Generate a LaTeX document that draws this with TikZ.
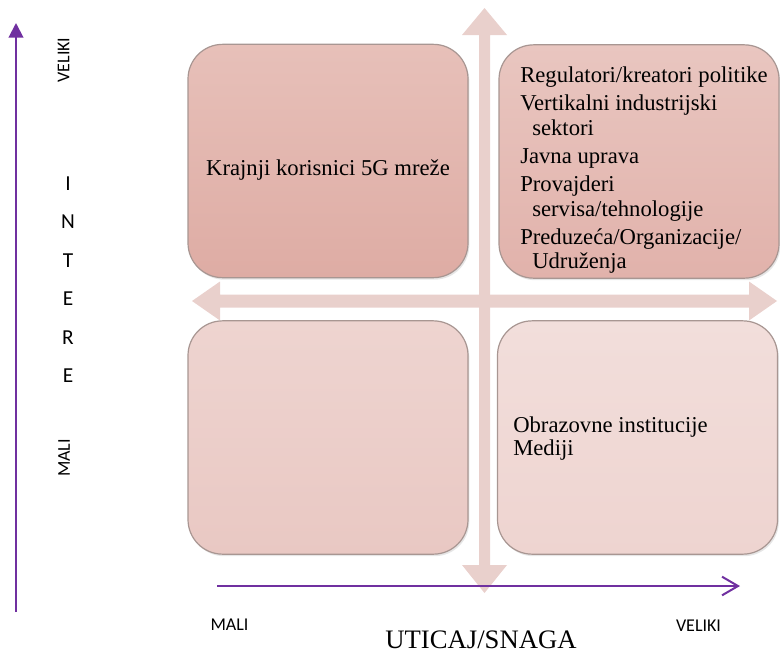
\documentclass[tikz,border=0pt]{standalone}
\usepackage{fontspec}
\setmainfont{Liberation Serif}
\newfontfamily\calib{Carlito}
\usetikzlibrary{arrows.meta,shadows}
\definecolor{axispurple}{RGB}{112,48,160}
\definecolor{crosspink}{RGB}{233,208,204}
\definecolor{boxedge}{RGB}{168,150,146}
\definecolor{tlA}{RGB}{231,192,185}
\definecolor{tlB}{RGB}{222,172,164}
\definecolor{trA}{RGB}{233,198,192}
\definecolor{trB}{RGB}{225,178,171}
\definecolor{blA}{RGB}{238,212,208}
\definecolor{blB}{RGB}{233,200,195}
\definecolor{brA}{RGB}{242,222,219}
\definecolor{brB}{RGB}{238,212,208}

\begin{document}
\begin{tikzpicture}[x=0.75pt,y=-0.75pt,
  quad/.style={draw=boxedge,line width=0.9pt,rounded corners=26pt,inner sep=0pt,
    minimum width=210pt,minimum height=175pt,
    drop shadow={shadow xshift=1pt,shadow yshift=-1.5pt,opacity=0.2}},
  boxtext/.style={font=\fontsize{17}{18.5}\selectfont,align=left,inner sep=0pt},
  axislabel/.style={font=\calib\fontsize{13.5}{16}\selectfont,inner sep=0pt},
  axisletter/.style={font=\calib\fontsize{16}{18}\selectfont,inner sep=0pt},
  axisline/.style={draw=axispurple,line width=1.5pt}]
  \useasboundingbox (0,0) rectangle (780,653);
  % quadrants
  \node[quad,top color=tlA,bottom color=tlB] (tl) at (328,161) {};
  \node[quad,top color=trA,bottom color=trB] (tr) at (639,161.5) {};
  \node[quad,top color=blA,bottom color=blB] (bl) at (328,437.5) {};
  \node[quad,top color=brA,bottom color=brB] (br) at (637.5,437.5) {};
  % cross
  \fill[crosspink] (479,565) -- (462,565) -- (484.5,593) -- (507,565) -- (490,565)
    -- (490,35) -- (507,35) -- (484.5,8) -- (462,35) -- (479,35) -- cycle;
  \fill[crosspink] (220,294.5) -- (220,281.5) -- (192,301) -- (220,320.5) -- (220,307.5)
    -- (749,307.5) -- (749,320.5) -- (777,301) -- (749,281.5) -- (749,294.5) -- cycle;
  % texts
  \node[boxtext] (endusers) at (328,170) {Krajnji korisnici 5G mreže};
  \node[boxtext,anchor=north west] (keyplayers) at (520,67) {Regulatori/kreatori politike\\[2.5pt]
    Vertikalni industrijski\\\hspace*{9pt}sektori\\[2.5pt]
    Javna uprava\\[2.5pt]
    Provajderi\\\hspace*{9pt}servisa/tehnologije\\[2.5pt]
    Preduzeća/Organizacije/\\\hspace*{9pt}Udruženja};
  \node[boxtext,font=\fontsize{17}{17.25}\selectfont,anchor=north west] (others) at (513,416.5)
    {Obrazovne institucije\\Mediji};
  % axes
  \coordinate (ybot) at (16,612);
  \coordinate (ytop) at (16,23);
  \draw[axisline,-{Triangle[width=11pt,length=11pt]}] (ybot) -- (ytop);
  \coordinate (xleft) at (217,586);
  \coordinate (xright) at (740,586);
  \draw[axisline,-{Straight Barb[length=12pt,width=14pt]}] (xleft) -- (xright);
  \node[axislabel,rotate=90] (ybig) at (63.5,60) {VELIKI};
  \node[axislabel,rotate=90] (ysmall) at (64,458) {MALI};
  \foreach \l [count=\i] in {I,N,T,E,R,E}
    \node[axisletter] (int\i) at (68,145+38.5*\i) {\l};
  \node[axislabel] (xsmall) at (229.5,625) {MALI};
  \node[axislabel] (xbig) at (698.5,626) {VELIKI};
  \node[font=\fontsize{20}{22}\selectfont,inner sep=0pt] (xtitle) at (481,640) {UTICAJ/SNAGA};
\end{tikzpicture}
\end{document}
